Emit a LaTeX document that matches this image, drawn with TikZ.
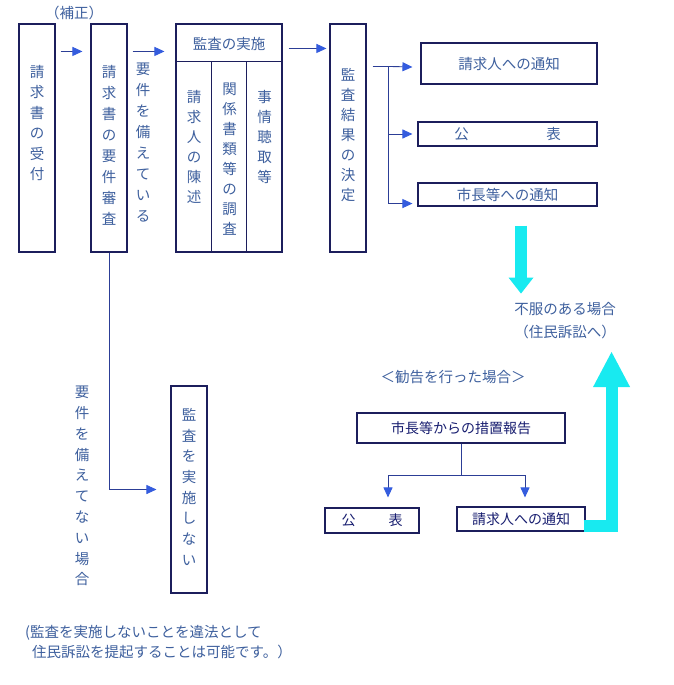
\documentclass[tikz,border=0pt]{standalone}
\usepackage{fontspec}
\setmainfont{Noto Sans CJK JP}
\usepackage{tikz}
\usetikzlibrary{arrows.meta}
\usetikzlibrary{calc}
\definecolor{boxline}{RGB}{28,30,92}
\definecolor{textblue}{RGB}{62,96,158}
\definecolor{darktext}{RGB}{24,30,112}
\definecolor{linkblue}{RGB}{44,62,150}
\definecolor{tipblue}{RGB}{52,92,222}
\definecolor{aqua}{RGB}{24,234,240}

\begin{document}
\begin{tikzpicture}[x=1pt,y=-1pt,
  box/.style={draw=boxline,line width=1.1pt,inner sep=0pt},
  txt/.style={text=textblue,inner sep=0pt,font=\fontsize{14.5}{20.5}\selectfont},
  vtxt/.style={txt,align=center,anchor=north},
  link/.style={draw=linkblue,line width=0.9pt},
  arrow/.style={link,-{Triangle[length=10pt,width=9pt,color=tipblue]}},
  bigarrow/.style={draw=aqua,line width=12pt,line join=miter}]
  \fill[white] (0,0) rectangle (673,685);
  \useasboundingbox (0,0) rectangle (673,685);

  % top row
  \node[box,minimum width=36pt,minimum height=228pt] (accept) at (37,138) {};
  \node[vtxt] (accepttxt) at (37,65) {請\\求\\書\\の\\受\\付};
  \node[box,minimum width=36pt,minimum height=228pt] (check) at (109,138) {};
  \node[vtxt,font=\fontsize{14.5}{21}\selectfont] (checktxt) at (109,65) {請\\求\\書\\の\\要\\件\\審\\査};
  \node[txt] (fix) at (74,13) {（補正）};
  \node[vtxt,font=\fontsize{14.5}{21}\selectfont] (meet) at (143,63) {要\\件\\を\\備\\え\\て\\い\\る};
  \node[box,minimum width=106pt,minimum height=228pt] (exec) at (229,138) {};
  \node[txt] (exechead) at (229,44) {監査の実施};
  \draw[box] ($(exec.north west)+(0,38)$) -- ($(exec.north east)+(0,38)$);
  \draw[box] ($(exec.north west)+(36,38)$) -- ($(exec.south west)+(36,0)$);
  \draw[box] ($(exec.north west)+(71,38)$) -- ($(exec.south west)+(71,0)$);
  \node[vtxt,font=\fontsize{14.5}{20}\selectfont] (state) at (194,90) {請\\求\\人\\の\\陳\\述};
  \node[vtxt,font=\fontsize{14.5}{20}\selectfont] (papers) at (229.5,83) {関\\係\\書\\類\\等\\の\\調\\査};
  \node[vtxt,font=\fontsize{14.5}{20}\selectfont] (hearing) at (264.5,90) {事\\情\\聴\\取\\等};
  \node[box,minimum width=36pt,minimum height=228pt] (result) at (348,138) {};
  \node[vtxt,font=\fontsize{14.5}{20}\selectfont] (resulttxt) at (348,68) {監\\査\\結\\果\\の\\決\\定};
  \node[box,txt,minimum width=176pt,minimum height=41pt] (notify1) at (509,63.5) {請求人への通知};
  \node[box,txt,minimum width=179pt,minimum height=24pt] (publish1) at (507.5,134) {公\hspace{77.5pt}表};
  \node[box,txt,minimum width=179pt,minimum height=23pt] (mayor1) at (507.5,194.5) {市長等への通知};
  \node[txt,align=center,font=\fontsize{14.5}{23}\selectfont] (appeal) at (565,321) {不服のある場合\\（住民訴訟へ）};

  % lower part
  \node[box,minimum width=36pt,minimum height=207pt] (nothing) at (189,489.5) {};
  \node[vtxt,font=\fontsize{14.5}{20.7}\selectfont] (nothingtxt) at (189,408) {監\\査\\を\\実\\施\\し\\な\\い};
  \node[vtxt,font=\fontsize{14.5}{20.8}\selectfont] (lack) at (82,386) {要\\件\\を\\備\\え\\て\\な\\い\\場\\合};
  \node[txt] (advise) at (453,377) {＜勧告を行った場合＞};
  \node[box,minimum width=208pt,minimum height=30pt,text=darktext,font=\fontsize{14}{17}\selectfont] (report) at (461,428) {市長等からの措置報告};
  \node[box,minimum width=94pt,minimum height=25pt,text=darktext,font=\fontsize{14}{17}\selectfont] (publish2) at (372,520.5) {公\hspace{33pt}表};
  \node[box,minimum width=128pt,minimum height=24pt,text=darktext,font=\fontsize{14}{17}\selectfont] (notify2) at (521,519) {請求人への通知};
  \node[txt,align=left,anchor=north west,font=\fontsize{14.5}{20}\selectfont] (note) at (25,625) {(監査を実施しないことを違法として\\\hspace*{7pt}住民訴訟を提起することは可能です。）};

  % connectors
  \draw[arrow] ($(accept.north east)+(5,28)$) -- ($(check.north west)+(-8,28)$);
  \draw[arrow] ($(check.north east)+(5,28)$) -- ($(exec.north west)+(-11,28)$);
  \draw[arrow] ($(exec.north east)+(6,25)$) -- ($(result.north west)+(-3,25)$);
  \coordinate (forkA) at ($(result.north east)+(22,43)$);
  \coordinate (forkB) at (forkA |- publish1.west);
  \coordinate (forkC) at ($(forkA |- mayor1.south)+(0,-3)$);
  \draw[link] ($(result.north east)+(6,43)$) -- (forkA) -- (forkC);
  \draw[arrow] (forkA) -- ($(notify1.west)+(-8,3.5)$);
  \draw[arrow] (forkB) -- ($(publish1.west)+(-5,0)$);
  \draw[arrow] (forkC) -- ($(mayor1.south west)+(-5,-3)$);
  \draw[arrow] (check.south) |- ($(nothing.west)+(-14,0)$);
  \coordinate (split) at ($(report.south)+(0,32)$);
  \draw[link] (report.south) -- (split);
  \draw[arrow] (split) -| ($(publish2.north)+(16,-10)$);
  \draw[arrow] (split) -| ($(notify2.north)+(4,-9)$);

  % thick arrows
  \draw[bigarrow,-{Triangle[length=16pt,width=25pt,line width=0pt]}] ($(mayor1.south)+(13.5,19)$) -- ($(mayor1.south)+(13.5,87)$);
  \draw[bigarrow,-{Triangle[length=35pt,width=37pt,line width=0pt]}] ($(notify2.east)+(-2,7)$) -| ($(notify2.east)+(26,-167)$);
\end{tikzpicture}
\end{document}
